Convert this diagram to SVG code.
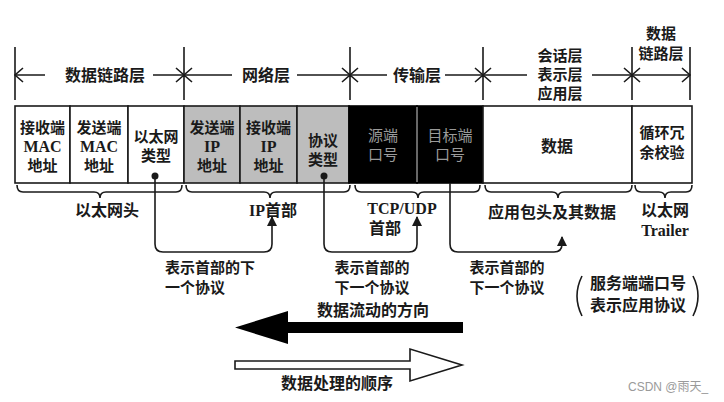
<svg xmlns="http://www.w3.org/2000/svg" width="724" height="402" viewBox="0 0 724 402">
<defs>
<style>
.t{font-family:"Noto Sans CJK SC","Noto Sans",sans-serif;font-size:16px;font-weight:bold;fill:#1a1a1a;text-anchor:middle}
.sm{font-size:15px}
.s{font-family:"Liberation Serif","Noto Sans CJK SC",serif;font-size:16px;font-weight:bold;fill:#1a1a1a;text-anchor:middle}
.g{fill:#9a9a9a;font-weight:normal}
.ln{fill:none;stroke:#1a1a1a;stroke-width:1.6}
.cell{stroke:#1a1a1a;stroke-width:1.6}
.w{fill:#ffffff}
.gr{fill:#bdbdbd}
.bk{fill:#000000}
</style>
<marker id="ah" viewBox="0 0 10 10" refX="9" refY="5" markerWidth="10" markerHeight="10" markerUnits="userSpaceOnUse" orient="auto">
<path d="M0,0 L10,5 L0,10 Z" fill="#1a1a1a"/>
</marker>
</defs>
<rect width="724" height="402" fill="#ffffff"/>

<g id="header">
<path class="ln" d="M15,47V100M184,47V100M350,47V100M483,47V100M632,47V100M690,47V100"/>
<path class="ln" d="M15,75H45M153,75H184M184,75H232M297,75H350M350,75H387M445,75H483M483,75H527M592,75H632M632,75H690"/>
<path class="ln" d="M23,68L15,75L23,82M176,68L184,75L176,82M192,68L184,75L192,82M342,68L350,75L342,82M358,68L350,75L358,82M475,68L483,75L475,82M491,68L483,75L491,82M624,68L632,75L624,82M640,68L632,75L640,82M682,68L690,75L682,82"/>
<text class="t" x="105" y="81">数据链路层</text>
<text class="t" x="266" y="81">网络层</text>
<text class="t" x="417" y="81">传输层</text>
<text class="t sm" x="560" y="61">会话层</text>
<text class="t sm" x="560" y="80">表示层</text>
<text class="t sm" x="560" y="99">应用层</text>
<text class="t sm" x="661" y="39">数据</text>
<text class="t sm" x="661" y="59">链路层</text>
</g>

<g id="cell-rx-mac">
<rect class="cell w" x="15" y="106" width="55" height="77"/>
<text class="t sm" x="42.5" y="133">接收端</text>
<text class="s sm" x="42.5" y="152">MAC</text>
<text class="t sm" x="42.5" y="171">地址</text>
</g>
<g id="cell-tx-mac">
<rect class="cell w" x="70" y="106" width="58" height="77"/>
<text class="t sm" x="99" y="133">发送端</text>
<text class="s sm" x="99" y="152">MAC</text>
<text class="t sm" x="99" y="171">地址</text>
</g>
<g id="cell-eth-type">
<rect class="cell w" x="128" y="106" width="56" height="77"/>
<text class="t sm" x="156" y="142">以太网</text>
<text class="t sm" x="156" y="161">类型</text>
</g>
<g id="cell-tx-ip">
<rect class="cell gr" x="184" y="106" width="56" height="77"/>
<text class="t sm" x="212" y="133">发送端</text>
<text class="s sm" x="212" y="152">IP</text>
<text class="t sm" x="212" y="171">地址</text>
</g>
<g id="cell-rx-ip">
<rect class="cell gr" x="240" y="106" width="57" height="77"/>
<text class="t sm" x="268.5" y="133">接收端</text>
<text class="s sm" x="268.5" y="152">IP</text>
<text class="t sm" x="268.5" y="171">地址</text>
</g>
<g id="cell-proto-type">
<rect class="cell gr" x="297" y="106" width="52" height="77"/>
<text class="t sm" x="323" y="146">协议</text>
<text class="t sm" x="323" y="165">类型</text>
</g>
<g id="cell-src-port">
<rect class="bk" x="349" y="106" width="68" height="77" stroke="#000" stroke-width="1.6"/>
<text class="t sm g" x="383" y="141">源端</text>
<text class="t sm g" x="383" y="160">口号</text>
</g>
<g id="cell-dst-port">
<rect class="bk" x="417" y="106" width="66" height="77" stroke="#000" stroke-width="1.6"/>
<line x1="417" y1="107" x2="417" y2="182" stroke="#cfcfcf" stroke-width="1"/>
<text class="t sm g" x="450" y="141">目标端</text>
<text class="t sm g" x="450" y="160">口号</text>
</g>
<g id="cell-data">
<rect class="cell w" x="483" y="106" width="149" height="77"/>
<text class="t" x="557" y="152">数据</text>
</g>
<g id="cell-crc">
<rect class="cell w" x="632" y="106" width="60" height="77"/>
<text class="t sm" x="662" y="138">循环冗</text>
<text class="t sm" x="662" y="158">余校验</text>
</g>

<g id="braces">
<path class="ln" d="M17,185Q17,192 23,192H94Q100,192 100,198Q100,192 106,192H176Q182,192 182,185"/>
<path class="ln" d="M186,185Q186,192 192,192H264Q270,192 270,198Q270,192 276,192H344Q350,192 350,185"/>
<path class="ln" d="M355,185Q355,192 361,192H412Q418,192 418,198Q418,192 424,192H474Q480,192 480,185"/>
<path class="ln" d="M485,185Q485,192 491,192H552Q558,192 558,198Q558,192 564,192H626Q632,192 632,185"/>
<path class="ln" d="M635,185Q635,192 641,192H659Q665,192 665,198Q665,192 671,192H686Q692,192 692,185"/>
<text class="t" x="107" y="216">以太网头</text>
<text class="t" x="273" y="216"><tspan font-family="Liberation Serif">IP</tspan>首部</text>
<text class="s" x="402" y="214">TCP/UDP</text>
<text class="t" x="385" y="234">首部</text>
<text class="t" x="552" y="218">应用包头及其数据</text>
<text class="t" x="665" y="216">以太网</text>
<text class="s" x="665" y="236">Trailer</text>
</g>

<g id="connectors">
<circle cx="155" cy="176" r="3.5" fill="#1a1a1a"/>
<circle cx="324" cy="176" r="3.5" fill="#1a1a1a"/>
<path class="ln" d="M155,176V244Q155,252 163,252H264Q272,252 272,244V217" marker-end="url(#ah)"/>
<path class="ln" d="M324,176V244Q324,252 332,252H409Q417,252 417,244V217" marker-end="url(#ah)"/>
<path class="ln" d="M450,183V244Q450,252 458,252H554Q562,252 562,244V237" marker-end="url(#ah)"/>
</g>

<g id="notes">
<text class="t sm" x="165" y="273" style="text-anchor:start">表示首部的下</text>
<text class="t sm" x="165" y="293" style="text-anchor:start">一个协议</text>
<text class="t sm" x="372" y="273">表示首部的</text>
<text class="t sm" x="372" y="293">下一个协议</text>
<text class="t sm" x="507" y="273">表示首部的</text>
<text class="t sm" x="507" y="293">下一个协议</text>
<path class="ln" d="M582,276Q572,296 582,316M693,276Q703,296 693,316"/>
<text class="t" x="638" y="289">服务端端口号</text>
<text class="t" x="638" y="311">表示应用协议</text>
</g>

<g id="flow-arrow">
<polygon points="463,322 288,322 288,311 235,327.5 288,344 288,333 463,333" fill="#000"/>
<text class="t" x="373" y="316">数据流动的方向</text>
</g>
<g id="process-arrow">
<polygon points="235,361 410,361 410,349 462,365 410,381 410,369 235,369" fill="#fff" stroke="#1a1a1a" stroke-width="1.6"/>
<text class="t" x="337" y="389">数据处理的顺序</text>
</g>

<text x="628" y="391" font-family="Liberation Sans, Noto Sans CJK SC, sans-serif" font-size="12" fill="#9a9a9a">CSDN @雨天_</text>
</svg>
